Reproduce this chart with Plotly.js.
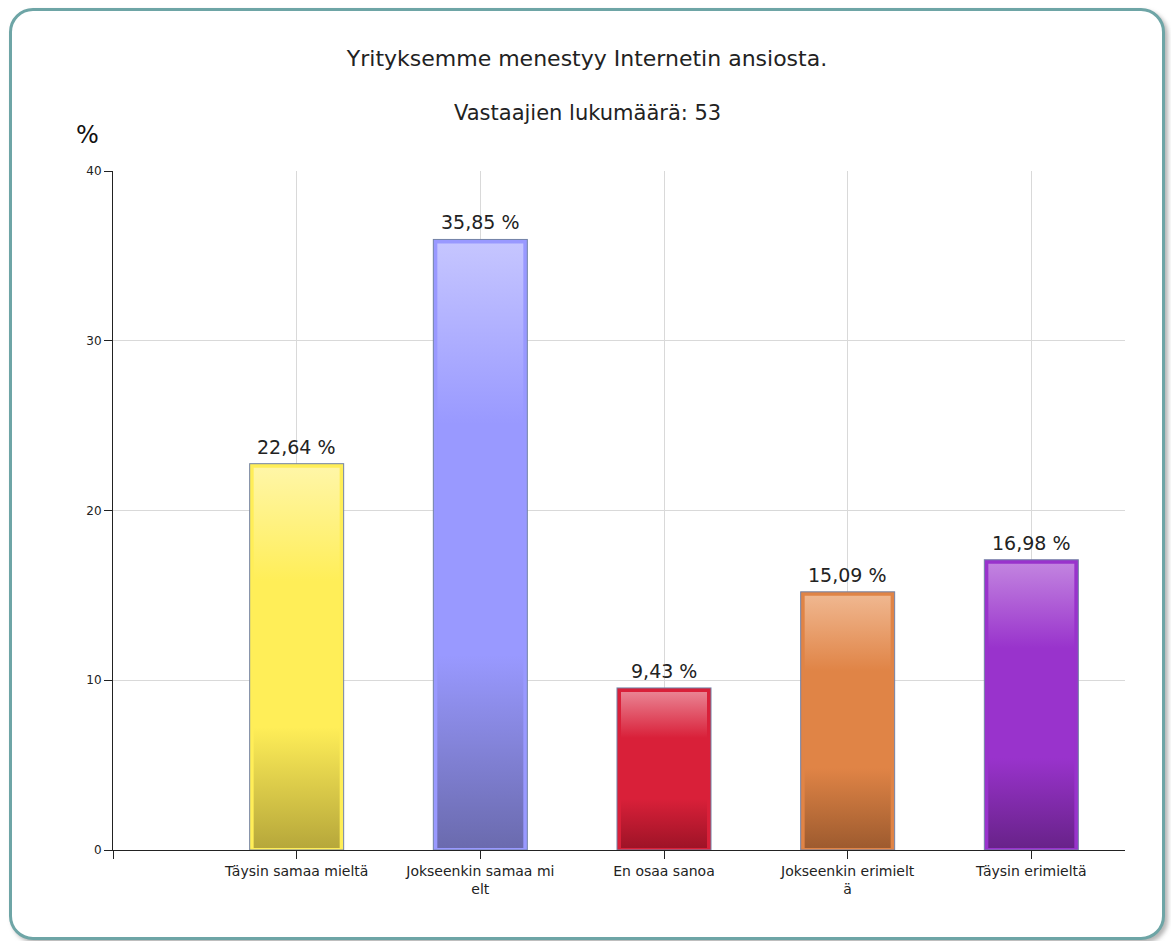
<!DOCTYPE html>
<html>
<head>
<meta charset="utf-8">
<script src="https://cdn.plot.ly/plotly-3.0.1.min.js"></script>
<style>
  html, body { margin: 0; padding: 0; background: #ffffff; }
  #frame {
    position: absolute; left: 9px; top: 8px; width: 1150px; height: 926px;
    border: 3px solid #6ea5a6; border-radius: 24px;
    box-shadow: 3px 3px 4px rgba(120,120,120,0.55);
    background: #ffffff;
  }
  #chart { position: absolute; left: 0; top: 0; width: 1171px; height: 941px; }
</style>
</head>
<body>
<div id="frame"></div>
<div id="chart"></div>
<script>
// ---- data ----
const categories = ["Täysin samaa mieltä", "Jokseenkin samaa mi<br>elt", "En osaa sanoa", "Jokseenkin erimielt<br>ä", "Täysin erimieltä"];
const positions = [1, 2, 3, 4, 5];
const values = [22.64, 35.85, 9.43, 15.09, 16.98];
const yTicks = [0, 10, 20, 30, 40];
const titleText = "Yrityksemme menestyy Internetin ansiosta.";
const subtitleText = "Vastaajien lukumäärä: 53";

// ---- styles ----
const mainColors = ["#ffee58", "#9999ff", "#d92039", "#e08446", "#9933cc"];
const gradStops = [
  ["#fff6a8", "#ffee58", "#ffee58", "#b5a63a"],
  ["#c6c6ff", "#9999ff", "#9999ff", "#6a6aad"],
  ["#ea8796", "#d92039", "#d92039", "#9c1326"],
  ["#f0b891", "#e08446", "#e08446", "#9c5a2e"],
  ["#c385e0", "#9933cc", "#9933cc", "#672288"]
];
const font = "DejaVu Sans, Verdana, sans-serif";

const trace = {
  type: "bar",
  x: positions,
  y: values,
  width: 0.49,
  marker: { color: mainColors, line: { color: mainColors, width: 4 } },
  hoverinfo: "none"
};

const labelAnnotations = positions.map(function (p, i) {
  return {
    x: p, y: values[i], xref: "x", yref: "y",
    text: values[i].toFixed(2).replace(".", ",") + " %",
    showarrow: false, xanchor: "center", yanchor: "bottom", yshift: 6,
    font: { family: font, size: 19, color: "#222222" }
  };
});

const layout = {
  width: 1171, height: 941,
  paper_bgcolor: "rgba(0,0,0,0)",
  plot_bgcolor: "rgba(0,0,0,0)",
  separators: ", ",
  margin: { l: 113, r: 46, t: 171, b: 91 },
  showlegend: false,
  font: { family: font, color: "#222222" },
  title: {
    text: titleText,
    font: { family: font, size: 22, color: "#222222" },
    x: 587 / 1171, xanchor: "center", xref: "container",
    y: 1 - 58 / 941, yanchor: "middle", yref: "container"
  },
  xaxis: {
    range: [0, 5.51],
    tickmode: "array",
    tickvals: [0].concat(positions),
    ticktext: [""].concat(categories),
    ticks: "outside", ticklen: 8, tickcolor: "#222222", tickwidth: 1,
    tickfont: { family: font, size: 14, color: "#222222" },
    showgrid: true, gridcolor: "#d9d9d9", gridwidth: 1,
    showline: true, linecolor: "#222222", linewidth: 1,
    zeroline: false, fixedrange: true
  },
  yaxis: {
    range: [0, 40],
    tickmode: "array",
    tickvals: yTicks,
    ticks: "outside", ticklen: 8, tickcolor: "#222222", tickwidth: 1,
    tickfont: { family: font, size: 12, color: "#222222" },
    showgrid: true, gridcolor: "#d9d9d9", gridwidth: 1,
    showline: true, linecolor: "#222222", linewidth: 1,
    zeroline: false, fixedrange: true
  },
  annotations: [
    {
      text: subtitleText, xref: "paper", yref: "paper",
      x: (587 - 113) / 1012, y: 1 + (171 - 113) / 679, xanchor: "center", yanchor: "middle",
      showarrow: false, font: { family: font, size: 21, color: "#222222" }
    },
    {
      text: "%", xref: "paper", yref: "paper",
      x: (87 - 113) / 1012, y: 1 + (171 - 135) / 679, xanchor: "center", yanchor: "middle",
      showarrow: false, font: { family: font, size: 24, color: "#111111" }
    }
  ].concat(labelAnnotations)
};

Plotly.newPlot("chart", [trace], layout, { displayModeBar: false, staticPlot: true }).then(function (gd) {
  // add vertical gradients and a thin outer outline to the bar shapes drawn by Plotly
  const svg = gd.querySelector(".main-svg");
  const ns = "http://www.w3.org/2000/svg";
  let defs = svg.querySelector("defs");
  if (!defs) { defs = document.createElementNS(ns, "defs"); svg.insertBefore(defs, svg.firstChild); }
  const offs = [0, 0.3, 0.68, 1];
  gradStops.forEach(function (stops, i) {
    const g = document.createElementNS(ns, "linearGradient");
    g.setAttribute("id", "bargrad" + i);
    g.setAttribute("x1", "0"); g.setAttribute("y1", "0");
    g.setAttribute("x2", "0"); g.setAttribute("y2", "1");
    stops.forEach(function (c, k) {
      const s = document.createElementNS(ns, "stop");
      s.setAttribute("offset", offs[k]);
      s.setAttribute("stop-color", c);
      g.appendChild(s);
    });
    defs.appendChild(g);
  });
  const paths = gd.querySelectorAll(".barlayer .point path");
  paths.forEach(function (p, i) {
    p.style.fill = "url(#bargrad" + i + ")";
    // thin grey-blue outline just outside the thick coloured border
    const bb = p.getBBox();
    const r = document.createElementNS(ns, "rect");
    r.setAttribute("x", bb.x - 2);
    r.setAttribute("y", bb.y - 2);
    r.setAttribute("width", bb.width + 4);
    r.setAttribute("height", bb.height + 2);
    r.setAttribute("fill", "none");
    r.setAttribute("stroke", "#7282a6");
    r.setAttribute("stroke-width", "1");
    p.parentNode.appendChild(r);
  });
});
</script>
</body>
</html>
